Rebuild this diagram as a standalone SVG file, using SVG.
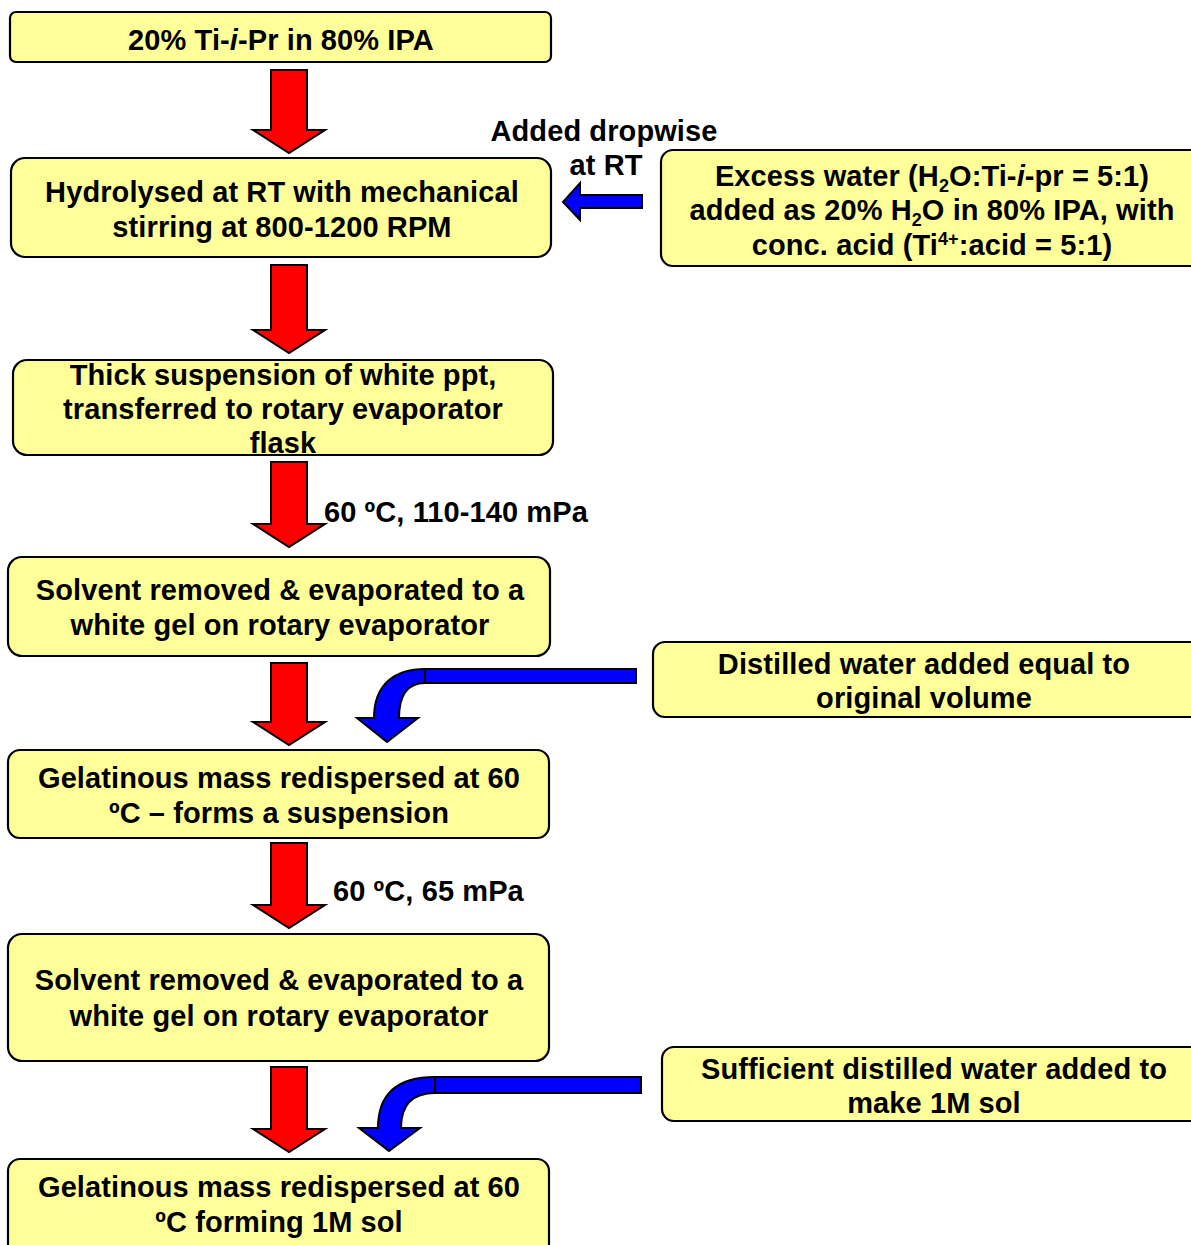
<svg xmlns="http://www.w3.org/2000/svg" width="1191" height="1245" viewBox="0 0 1191 1245">
<style>
.box{fill:#FFFF99;stroke:#000;stroke-width:2.2}
.t{font-family:"Liberation Sans",Arial,sans-serif;font-weight:bold;font-size:29px;letter-spacing:0.1px;fill:#000;text-anchor:middle}
.lbl{font-family:"Liberation Sans",Arial,sans-serif;font-weight:bold;font-size:29px;letter-spacing:0.1px;fill:#000}
.red{fill:#FF0000;stroke:#000;stroke-width:2;stroke-linejoin:miter}
.blue{fill:#0000FF;stroke:#000;stroke-width:2;stroke-linejoin:miter}
.sub{font-size:18px}
</style>
<rect width="1191" height="1245" fill="#fff"/>
<g id="connectors">
<polygon class="red" points="271,70 307,70 307,130 325,130 289,153 253,130 271,130"/>
<polygon class="red" points="271,265 307,265 307,330 325,330 289,353 253,330 271,330"/>
<polygon class="red" points="271,462 307,462 307,524 325,524 289,547 253,524 271,524"/>
<polygon class="red" points="271,663 307,663 307,722 325,722 289,745 253,722 271,722"/>
<polygon class="red" points="271,843 307,843 307,905 325,905 289,928 253,905 271,905"/>
<polygon class="red" points="271,1067 307,1067 307,1129 325,1129 289,1152 253,1129 271,1129"/>
<polygon class="blue" points="642,195 642,208 580,208 580,220 563,202 580,183 580,195"/>
<path class="blue" d="M636,669 L425,669 C395,669 374,684 374,718 L357,718 L387,742 L418,718 L399,718 C399,695 408,683 425,683 L636,683 Z"/>
<line x1="425" y1="669" x2="425" y2="683" stroke="#000" stroke-width="2"/>
<path class="blue" d="M641,1077 L435,1077 C400,1077 378,1092 378,1128 L359,1128 L389,1151 L420,1128 L401,1128 C401,1105 412,1093 435,1093 L641,1093 Z"/>
<line x1="435" y1="1077" x2="435" y2="1093" stroke="#000" stroke-width="2"/>
<text class="t" x="604" y="141">Added dropwise</text>
<text class="t" x="606" y="175">at RT</text>
<text class="lbl" x="324" y="522">60 ºC, 110-140 mPa</text>
<text class="lbl" x="333" y="901">60 ºC, 65 mPa</text>
</g>
<g id="n1">
<rect class="box" x="10" y="12" width="541" height="50" rx="6"/>
<text class="t" x="281" y="50">20% Ti-<tspan font-style="italic">i</tspan>-Pr in 80% IPA</text>
</g>
<g id="n2">
<rect class="box" x="11" y="158" width="540" height="99" rx="14"/>
<text class="t" x="282" y="202">Hydrolysed at RT with mechanical</text>
<text class="t" x="282" y="237">stirring at 800-1200 RPM</text>
</g>
<g id="n3">
<rect class="box" x="13" y="360" width="540" height="95" rx="14"/>
<text class="t" x="283" y="385">Thick suspension of white ppt,</text>
<text class="t" x="283" y="419">transferred to rotary evaporator</text>
<text class="t" x="283" y="453">flask</text>
</g>
<g id="n4">
<rect class="box" x="8" y="557" width="542" height="99" rx="14"/>
<text class="t" x="280" y="600">Solvent removed &amp; evaporated to a</text>
<text class="t" x="280" y="635">white gel on rotary evaporator</text>
</g>
<g id="n5">
<rect class="box" x="8" y="750" width="541" height="88" rx="12"/>
<text class="t" x="279" y="788">Gelatinous mass redispersed at 60</text>
<text class="t" x="279" y="823">ºC – forms a suspension</text>
</g>
<g id="n6">
<rect class="box" x="8" y="934" width="541" height="127" rx="14"/>
<text class="t" x="279" y="990">Solvent removed &amp; evaporated to a</text>
<text class="t" x="279" y="1026">white gel on rotary evaporator</text>
</g>
<g id="n7">
<rect class="box" x="8" y="1159" width="541" height="110" rx="12"/>
<text class="t" x="279" y="1197">Gelatinous mass redispersed at 60</text>
<text class="t" x="279" y="1232">ºC forming 1M sol</text>
</g>
<g id="nA">
<rect class="box" x="661" y="150" width="560" height="116" rx="12"/>
<text class="t" x="932" y="186">Excess water (H<tspan class="sub" dy="6">2</tspan><tspan dy="-6">O:Ti-</tspan><tspan font-style="italic">i</tspan>-pr = 5:1)</text>
<text class="t" x="932" y="220">added as 20% H<tspan class="sub" dy="6">2</tspan><tspan dy="-6">O in 80% IPA, with</tspan></text>
<text class="t" x="932" y="255">conc. acid (Ti<tspan class="sub" dy="-10">4+</tspan><tspan dy="10">:acid = 5:1)</tspan></text>
</g>
<g id="nB">
<rect class="box" x="653" y="642" width="560" height="75" rx="12"/>
<text class="t" x="924" y="674">Distilled water added equal to</text>
<text class="t" x="924" y="708">original volume</text>
</g>
<g id="nC">
<rect class="box" x="662" y="1047" width="560" height="74" rx="12"/>
<text class="t" x="934" y="1079">Sufficient distilled water added to</text>
<text class="t" x="934" y="1113">make 1M sol</text>
</g>
</svg>
